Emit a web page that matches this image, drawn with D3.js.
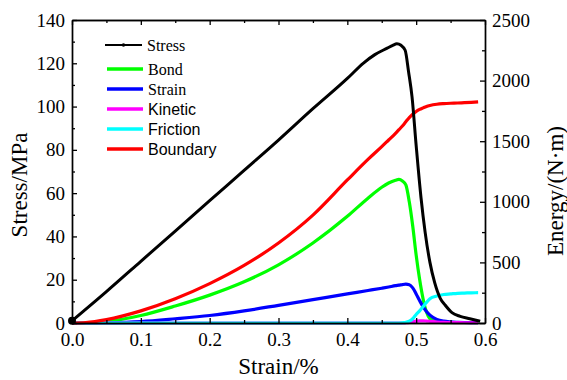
<!DOCTYPE html>
<html>
<head>
<meta charset="utf-8">
<script src="https://cdn.jsdelivr.net/npm/d3@7"></script>
<style>
    body { margin: 0; background: #fff; }
    svg { display: block; }
</style>
</head>
<body>
<div class="canvas"></div>
<script>
// Stress curve (left axis, MPa)
const stressStrain = [0, 0.05, 0.1, 0.15, 0.2, 0.25, 0.3, 0.35, 0.4, 0.423, 0.44, 0.458, 0.466, 0.472, 0.478,
    0.484, 0.489, 0.494, 0.5, 0.507, 0.513, 0.52, 0.527, 0.535, 0.542, 0.552, 0.564, 0.578, 0.593];
const stressValues = [1, 14.5, 28.5, 42.5, 56.5, 70.5, 84.5, 99, 113, 120, 124, 127, 128.3, 129, 128.3,
    126, 116, 104.5, 82, 58, 42, 28, 18.5, 11.4, 8.3, 4.8, 3.1, 2, 0.8];

// Energy curves (right axis, N·m), shared strain grid
const energyStrain = [0, 0.02, 0.05, 0.1, 0.15, 0.2, 0.25, 0.3, 0.35, 0.4, 0.43, 0.45, 0.46, 0.47, 0.475, 0.48,
    0.485, 0.49, 0.495, 0.5, 0.505, 0.51, 0.515, 0.52, 0.53, 0.54, 0.55, 0.56, 0.57, 0.58, 0.59];
const bondEnergy = [0, 1, 12, 62, 140, 230, 340, 480, 660, 880, 1030, 1120, 1155, 1178, 1185, 1172,
    1140, 1000, 800, 560, 360, 200, 90, 35, 8, 3, 2, 2, 2, 2, 2];
const strainEnergy = [0, 0, 2, 12, 35, 62, 100, 146, 193, 240, 268, 287, 297, 308, 312, 317,
    320, 316, 290, 240, 185, 135, 95, 65, 30, 15, 9, 6, 4, 3, 2];
const kineticEnergy = [0, 0, 0, 0, 0, 0, 0, 0, 0, 0, 0, 0, 0, 0, 0, 0,
    2, 5, 10, 15, 18, 18, 16, 13, 8, 5, 4, 3, 2, 2, 2];
const frictionEnergy = [0, 0, 0, 0, 0, 0, 0, 0, 0, 0, 0, 0, 0, 0, 0, 2,
    5, 15, 35, 70, 100, 135, 170, 200, 222, 235, 240, 245, 247, 249, 250];
const boundaryEnergy = [0, 4, 28, 100, 200, 325, 475, 660, 890, 1180, 1350, 1455, 1510, 1565, 1595, 1625,
    1660, 1695, 1722, 1745, 1762, 1775, 1787, 1795, 1805, 1810, 1813, 1815, 1818, 1821, 1825];

const energyNames = ['Bond', 'Strain', 'Kinetic', 'Friction', 'Boundary'];
const energyColors = ['#00ff00', '#0000ff', '#ff00ff', '#00ffff', '#ff0000'];
const legendFonts = ['serif', 'serif', 'sans', 'sans', 'sans'];

const strainTicks = [0, 0.1, 0.2, 0.3, 0.4, 0.5, 0.6];
const stressTicks = [0, 20, 40, 60, 80, 100, 120, 140];
const energyTicks = [0, 500, 1000, 1500, 2000, 2500];

const SERIF = '"Liberation Serif", "Times New Roman", Times, serif';
const SANS = '"Liberation Sans", Arial, Helvetica, sans-serif';

const chart = {
    width: 567,
    height: 380,
    margin: { left: 72, right: 82, top: 20, bottom: 57 },
    svg: null,

    init: function() {
        const m = chart.margin;
        const innerW = chart.width - m.left - m.right;
        const innerH = chart.height - m.top - m.bottom;

        chart.svg = d3.select('.canvas').append('svg')
            .attr('width', chart.width)
            .attr('height', chart.height);

        const g = chart.svg.append('g')
            .attr('transform', `translate(${m.left}, ${m.top})`);

        // Scales
        const x = d3.scaleLinear().domain([0, 0.6]).range([0, innerW]);
        const yStress = d3.scaleLinear().domain([0, 140]).range([innerH, 0]);
        const yEnergy = d3.scaleLinear().domain([0, 2500]).range([innerH, 0]);

        // Energy curves first, stress on top
        const series = [bondEnergy, strainEnergy, kineticEnergy, frictionEnergy, boundaryEnergy];
        const energyLine = d3.line()
            .x(d => x(d[0]))
            .y(d => yEnergy(d[1]))
            .curve(d3.curveMonotoneX);

        series.forEach((vals, i) => {
            g.append('path')
                .datum(energyStrain.map((s, k) => [s, vals[k]]))
                .attr('fill', 'none')
                .attr('stroke', energyColors[i])
                .attr('stroke-width', 3.2)
                .attr('stroke-linejoin', 'round')
                .attr('d', energyLine);
        });

        const stressLine = d3.line()
            .x(d => x(d[0]))
            .y(d => yStress(d[1]))
            .curve(d3.curveMonotoneX);

        const stressData = stressStrain.map((s, k) => [s, stressValues[k]]);
        g.append('path')
            .datum(stressData)
            .attr('fill', 'none')
            .attr('stroke', '#000')
            .attr('stroke-width', 3)
            .attr('stroke-linejoin', 'round')
            .attr('d', stressLine);

        g.append('circle')
            .attr('cx', x(stressData[0][0]))
            .attr('cy', yStress(stressData[0][1]))
            .attr('r', 4)
            .attr('fill', '#000');

        // Axes: major + minor ticks, all pointing inward
        const major = 5, minor = 3;
        const fmtX = d3.format('.1f');
        const minorStrain = d3.range(0.05, 0.6, 0.1);
        const minorStress = d3.range(10, 140, 20);
        const minorEnergy = d3.range(250, 2500, 500);

        const addAxis = (axis, transform) => {
            const a = g.append('g')
                .attr('transform', transform)
                .call(axis)
                .attr('font-family', SERIF)
                .attr('font-size', 19);
            a.selectAll('text').attr('fill', '#000');
            a.selectAll('line').attr('stroke-width', 1.3);
            a.select('.domain').attr('stroke-width', 1.4);
            return a;
        };

        addAxis(d3.axisBottom(x).tickValues(strainTicks).tickFormat(fmtX)
            .tickSizeInner(-major).tickSizeOuter(0).tickPadding(10), `translate(0, ${innerH})`);
        addAxis(d3.axisBottom(x).tickValues(minorStrain).tickFormat('')
            .tickSizeInner(-minor).tickSizeOuter(0), `translate(0, ${innerH})`);
        addAxis(d3.axisTop(x).tickValues(strainTicks).tickFormat('')
            .tickSizeInner(-major).tickSizeOuter(0), 'translate(0, 0)');
        addAxis(d3.axisTop(x).tickValues(minorStrain).tickFormat('')
            .tickSizeInner(-minor).tickSizeOuter(0), 'translate(0, 0)');

        addAxis(d3.axisLeft(yStress).tickValues(stressTicks).tickFormat(d3.format('d'))
            .tickSizeInner(-major).tickSizeOuter(0).tickPadding(7), 'translate(0, 0)');
        addAxis(d3.axisLeft(yStress).tickValues(minorStress).tickFormat('')
            .tickSizeInner(-minor).tickSizeOuter(0), 'translate(0, 0)');

        addAxis(d3.axisRight(yEnergy).tickValues(energyTicks).tickFormat(d3.format('d'))
            .tickSizeInner(-major).tickSizeOuter(0).tickPadding(7), `translate(${innerW}, 0)`);
        addAxis(d3.axisRight(yEnergy).tickValues(minorEnergy).tickFormat('')
            .tickSizeInner(-minor).tickSizeOuter(0), `translate(${innerW}, 0)`);

        // Axis titles
        chart.svg.append('text')
            .attr('font-family', SERIF)
            .attr('x', m.left + innerW / 2)
            .attr('y', 374)
            .attr('text-anchor', 'middle')
            .attr('font-size', 23)
            .text('Strain/%');

        chart.svg.append('text')
            .attr('font-family', SERIF)
            .attr('transform', 'translate(27, 185) rotate(-90)')
            .attr('text-anchor', 'middle')
            .attr('font-size', 23)
            .text('Stress/MPa');

        chart.svg.append('text')
            .attr('font-family', SERIF)
            .attr('transform', 'translate(563, 191) rotate(-90)')
            .attr('text-anchor', 'middle')
            .attr('font-size', 23)
            .text('Energy/(N·m)');

        chart.drawLegend();
    },

    drawLegend: function() {
        const legend = chart.svg.append('g').attr('transform', 'translate(106, 45)');

        // Stress entry: thin line with a dot
        legend.append('line')
            .attr('x1', -1).attr('x2', 36).attr('y1', 0).attr('y2', 0)
            .attr('stroke', '#000').attr('stroke-width', 2);
        legend.append('circle')
            .attr('cx', 17.5).attr('cy', 0).attr('r', 1.8).attr('fill', '#000');
        legend.append('text')
            .attr('font-family', SERIF)
            .attr('x', 41).attr('y', 5.5)
            .attr('font-size', 16)
            .text('Stress');

        const rowY = [24, 44, 64, 84, 104];
        energyNames.forEach((name, i) => {
            legend.append('line')
                .attr('x1', 1).attr('x2', 37).attr('y1', rowY[i]).attr('y2', rowY[i])
                .attr('stroke', energyColors[i]).attr('stroke-width', 3.4);
            legend.append('text')
                .attr('font-family', legendFonts[i] === 'serif' ? SERIF : SANS)
                .attr('x', 42).attr('y', rowY[i] + 5.5)
                .attr('font-size', 16)
                .text(name);
        });
    }
};

document.addEventListener('DOMContentLoaded', chart.init);
</script>
</body>
</html>
